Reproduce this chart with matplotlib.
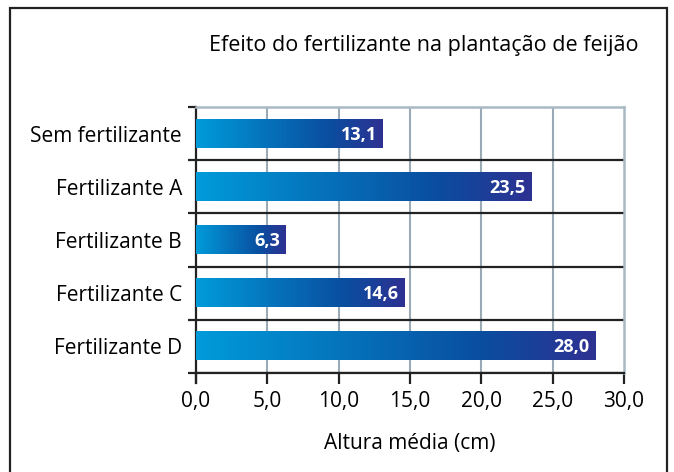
import matplotlib
matplotlib.use('Agg')
import matplotlib.pyplot as plt
import numpy as np
from matplotlib.colors import LinearSegmentedColormap
from matplotlib.patches import Rectangle

categories = ['Sem fertilizante', 'Fertilizante A', 'Fertilizante B',
              'Fertilizante C', 'Fertilizante D']
values = [13.1, 23.5, 6.3, 14.6, 28.0]
value_labels = ['13,1', '23,5', '6,3', '14,6', '28,0']
xticks = [0, 5, 10, 15, 20, 25, 30]
xtick_labels = ['0,0', '5,0', '10,0', '15,0', '20,0', '25,0', '30,0']

plt.rcParams['font.family'] = ['Open Sans', 'DejaVu Sans']

W, H = 674, 472
fig = plt.figure(figsize=(W / 100, H / 100), dpi=100)
ax = fig.add_axes([196 / W, 1 - 373 / H, (624 - 196) / W, (373 - 107) / H])

cmap = LinearSegmentedColormap.from_list(
    'bar', [(0, '#009bda'), (0.72, '#0a4d9f'), (1, '#2e3192')])
grad = np.linspace(0, 1, 256).reshape(1, -1)

ypos = np.arange(len(categories))
bh = 0.53
for y, v, lab in zip(ypos, values, value_labels):
    ax.imshow(grad, cmap=cmap, aspect='auto', zorder=3,
              extent=(0, v, y + bh / 2, y - bh / 2), interpolation='bilinear')
    ax.text(v - 0.4, y + 0.02, lab, color='white', fontweight='bold',
            fontsize=13, ha='right', va='center', zorder=4)

# grid and category separators
for x in xticks[1:-1]:
    ax.axvline(x, color='#9aabb7', lw=1.5, zorder=1)
for b in np.arange(0.5, len(categories), 1.0):
    ax.axhline(b, color='#222222', lw=1.6, zorder=2)

ax.set_xlim(0, 30)
ax.set_ylim(len(categories) - 0.5, -0.5)

ax.set_yticks(ypos)
ax.set_yticklabels(categories, fontsize=15)
ax.set_yticks(np.arange(-0.5, len(categories), 1.0), minor=True)
ax.tick_params(axis='y', which='major', length=0, pad=10)
ax.tick_params(axis='y', which='minor', length=6, width=1.6, color='#222222', direction='out')

ax.set_xticks(xticks)
ax.set_xticklabels(xtick_labels, fontsize=15)
ax.tick_params(axis='x', length=8, width=1.6, color='#222222', direction='out', pad=5)

for s in ['top', 'right']:
    ax.spines[s].set_color('#a9b9c4')
    ax.spines[s].set_linewidth(1.8)
for s in ['left', 'bottom']:
    ax.spines[s].set_color('#222222')
    ax.spines[s].set_linewidth(1.6)
ax.spines['left'].set_bounds(len(categories) - 0.5 + 0.18, -0.5)

fig.text(424 / W, 1 - 45 / H, 'Efeito do fertilizante na plantação de feijão',
         fontsize=15.5, ha='center', va='center')
fig.text(410 / W, 1 - 443 / H, 'Altura média (cm)', fontsize=15,
         ha='center', va='center')

fig.patches.append(Rectangle((10 / W, -0.1), (667 - 10) / W, 1.1 - 8 / H,
                             transform=fig.transFigure, fill=False,
                             edgecolor='#222222', lw=1.6))

fig.savefig('out.png', dpi=100)
